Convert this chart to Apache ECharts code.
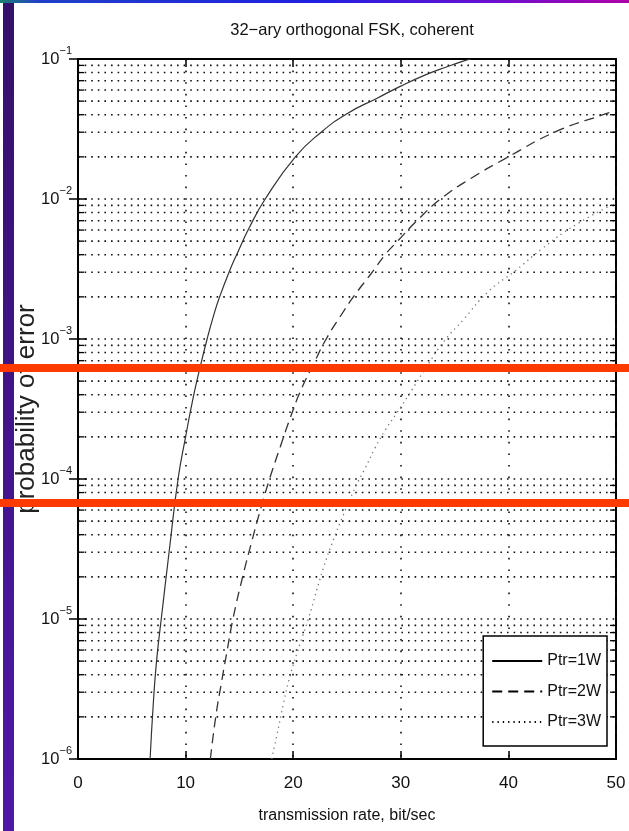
<!DOCTYPE html>
<html>
<head>
<meta charset="utf-8">
<script src="https://cdn.jsdelivr.net/npm/echarts@6/dist/echarts.min.js"></script>
<style>
html,body{margin:0;padding:0;background:#fff;}
#chart{width:629px;height:831px;}
</style>
</head>
<body>
<div id="chart"></div>
<script>
// ---- data ----
var titleText = '32\u2212ary orthogonal FSK, coherent';
var xAxisName = 'transmission rate, bit/sec';
var yAxisName = 'probability of error';
var seriesNames = ['Ptr=1W', 'Ptr=2W', 'Ptr=3W'];
var xTicks = [0, 10, 20, 30, 40, 50];
var yMin = 1e-6, yMax = 1e-1;

var solidX = [6.7, 7.0, 7.3, 7.8, 8.5, 9.3, 10.0, 10.7, 11.35, 12.0, 12.6, 13.1, 14.1, 14.85, 15.9, 17.4, 20.2, 22.6, 25.0, 27.8, 30.0, 32.4, 34.3, 35.8, 36.5];
var solidY = [1e-6, 2.5e-6, 5e-6, 1.1e-5, 3.16e-5, 1e-4, 2e-4, 3.8e-4, 6.3e-4, 1e-3, 1.47e-3, 1.94e-3, 3.09e-3, 4.17e-3, 6.2e-3, 1e-2, 2e-2, 3e-2, 4.07e-2, 5.25e-2, 6.4e-2, 7.76e-2, 8.8e-2, 9.66e-2, 1e-1];

var dashX = [12.3, 12.8, 13.3, 13.8, 14.4, 15.3, 16.2, 17.0, 17.8, 18.8, 19.7, 20.65, 22.0, 23.0, 24.4, 25.8, 27.2, 28.6, 29.6, 31.5, 33.7, 36.5, 40.0, 44.3, 48.8, 50];
var dashY = [1e-6, 2e-6, 3.4e-6, 5.6e-6, 1e-5, 2e-5, 3.7e-5, 6.2e-5, 1e-4, 1.7e-4, 2.7e-4, 4.2e-4, 6.9e-4, 9.8e-4, 1.46e-3, 2.1e-3, 2.9e-3, 4.05e-3, 4.9e-3, 7e-3, 1e-2, 1.4e-2, 2e-2, 3e-2, 4e-2, 4.25e-2];

var dotX = [18.0, 18.5, 19.1, 19.7, 20.65, 21.4, 22.8, 23.8, 24.6, 25.8, 26.7, 27.6, 28.56, 29.65, 31.0, 32.6, 34.0, 35.8, 38.1, 40.7, 43.1, 46.2, 50];
var dotY = [1e-6, 1.5e-6, 2.5e-6, 3.9e-6, 6.7e-6, 1e-5, 2.3e-5, 3.8e-5, 5.4e-5, 8.8e-5, 1.2e-4, 1.66e-4, 2.24e-4, 2.98e-4, 4.3e-4, 6.7e-4, 9.6e-4, 1.37e-3, 2.17e-3, 3.1e-3, 4.4e-3, 6.5e-3, 9.4e-3];

var minorMantissas = [2, 3, 4, 5, 6, 7, 8, 9];
var decades = [-6, -5, -4, -3, -2];

// ---- build ----
function zip(xs, ys) { return xs.map(function (x, i) { return [x, ys[i]]; }); }
var minorData = [];
decades.forEach(function (d) {
  minorMantissas.forEach(function (m) { minorData.push([0, m * Math.pow(10, d)]); });
});

var FONT = '"Liberation Sans", Arial, Helvetica, sans-serif';
var chart = echarts.init(document.getElementById('chart'), null, { renderer: 'canvas' });

var gridDot = { color: '#111', width: 1.6, type: [1.6, 5] };
var vGridDot = { color: '#111', width: 1.6, type: [1.6, 10] };

chart.setOption({
  backgroundColor: '#fff',
  animation: false,
  textStyle: { fontFamily: FONT },
  title: {
    text: titleText,
    left: 347, top: 17, textAlign: 'center',
    textStyle: { fontFamily: FONT, fontSize: 16.5, fontWeight: 'normal', color: '#111' }
  },
  grid: { left: 78, right: 13, top: 59, bottom: 72, outerBoundsMode: 'none', containLabel: false,
    show: true, borderColor: '#000', borderWidth: 2, backgroundColor: 'transparent' },
  legend: {
    orient: 'vertical', right: 22, top: 636,
    backgroundColor: '#fff', borderColor: '#000', borderWidth: 1.5,
    padding: [17, 6, 16, 8], itemGap: 14.5, itemWidth: 50, itemHeight: 16,
    itemStyle: { opacity: 0 },
    lineStyle: { color: '#000' },
    textStyle: { fontFamily: FONT, fontSize: 16, color: '#111' },
    data: seriesNames
  },
  xAxis: [{
    type: 'value', min: 0, max: 50, interval: 10, position: 'bottom',
    axisLine: { show: true, lineStyle: { color: '#000', width: 2 } },
    axisTick: { show: true, inside: true, length: 8, lineStyle: { color: '#000', width: 1.5 } },
    axisLabel: { fontSize: 17, color: '#111', margin: 16, fontFamily: FONT,
      formatter: function (v) { return xTicks.indexOf(v) >= 0 ? String(v) : ''; } },
    splitLine: { show: true, lineStyle: vGridDot },
    name: xAxisName, nameLocation: 'middle', nameGap: 49,
    nameTextStyle: { fontSize: 16, color: '#111', fontFamily: FONT }
  }, {
    type: 'value', min: 0, max: 50, interval: 10, position: 'top',
    axisLine: { show: true, lineStyle: { color: '#000', width: 2 } },
    axisTick: { show: true, inside: true, length: 8, lineStyle: { color: '#000', width: 1.5 } },
    axisLabel: { show: false }, splitLine: { show: false }
  }],
  yAxis: [{
    type: 'log', logBase: 10, min: yMin, max: yMax, position: 'left',
    axisLine: { show: true, lineStyle: { color: '#000', width: 2 } },
    axisTick: { show: true, inside: true, length: 9, lineStyle: { color: '#000', width: 1.5 } },
    splitLine: { show: true, lineStyle: gridDot },
    axisLabel: {
      margin: 6, color: '#111',
      formatter: function (v) {
        var e = Math.round(Math.log10(v));
        return '{b|10}{s|' + String(e).replace('-', '\u2212') + '}';
      },
      rich: {
        b: { fontSize: 16.5, lineHeight: 18, color: '#111', fontFamily: FONT },
        s: { fontSize: 11, lineHeight: 12, padding: [0, 0, 16, 0], color: '#111', fontFamily: FONT }
      }
    },
    name: yAxisName, nameLocation: 'middle', nameGap: 38, nameMoveOverlap: false,
    nameTextStyle: { fontSize: 26, color: '#222', fontFamily: FONT }
  }, {
    type: 'log', logBase: 10, min: yMin, max: yMax, position: 'right',
    axisLine: { show: true, lineStyle: { color: '#000', width: 2 } },
    axisTick: { show: true, inside: true, length: 9, lineStyle: { color: '#000', width: 1.5 } },
    axisLabel: { show: false }, splitLine: { show: false }
  }],
  series: [{
    type: 'custom', silent: true, xAxisIndex: 0, yAxisIndex: 0, z: 1,
    encode: { x: 0, y: 1 },
    data: minorData,
    renderItem: function (params, api) {
      var v = api.value(1);
      var p0 = api.coord([0, v]);
      var p1 = api.coord([50, v]);
      return {
        type: 'group',
        children: [
          { type: 'line', shape: { x1: p0[0], y1: p0[1], x2: p1[0], y2: p1[1] }, style: { stroke: '#111', lineWidth: 1.6, lineDash: [1.6, 5] } },
          { type: 'line', shape: { x1: p0[0], y1: p0[1], x2: p0[0] + 6, y2: p0[1] }, style: { stroke: '#000', lineWidth: 1.3 } },
          { type: 'line', shape: { x1: p1[0], y1: p1[1], x2: p1[0] - 6, y2: p1[1] }, style: { stroke: '#000', lineWidth: 1.3 } }
        ]
      };
    }
  }, {
    name: seriesNames[0], type: 'line', data: zip(solidX, solidY), showSymbol: false, symbol: 'circle',
    smooth: 0.5, z: 3,
    lineStyle: { color: '#333', width: 1.2, type: 'solid' }, itemStyle: { color: '#111' }
  }, {
    name: seriesNames[1], type: 'line', data: zip(dashX, dashY), showSymbol: false, symbol: 'circle',
    smooth: 0.5, z: 3,
    lineStyle: { color: '#333', width: 1.3, type: [10, 6] }, itemStyle: { color: '#111' }
  }, {
    name: seriesNames[2], type: 'line', data: zip(dotX, dotY), showSymbol: false, symbol: 'circle',
    smooth: 0.5, z: 3,
    lineStyle: { color: '#777', width: 1.3, type: [1.3, 4] }, itemStyle: { color: '#444' }
  }],
  graphic: [
    { type: 'rect', z: 100, shape: { x: 0, y: 0, width: 629, height: 3 },
      style: { fill: new echarts.graphic.LinearGradient(0, 0, 1, 0, [
        { offset: 0, color: '#1f8070' }, { offset: 0.06, color: '#1f40c8' },
        { offset: 0.5, color: '#2020e0' }, { offset: 0.78, color: '#6a10d0' }, { offset: 1, color: '#b000a8' }]) } },
    { type: 'rect', z: 100, shape: { x: 3, y: 3, width: 11, height: 828 },
      style: { fill: new echarts.graphic.LinearGradient(0, 0, 0, 1, [
        { offset: 0, color: '#35106a' }, { offset: 1, color: '#5018a8' }]) } },
    { type: 'rect', z: 100, shape: { x: 0, y: 364, width: 629, height: 8 }, style: { fill: '#ff3a00' } },
    { type: 'rect', z: 100, shape: { x: 0, y: 499, width: 629, height: 8 }, style: { fill: '#ff3a00' } }
  ]
});
</script>
</body>
</html>
